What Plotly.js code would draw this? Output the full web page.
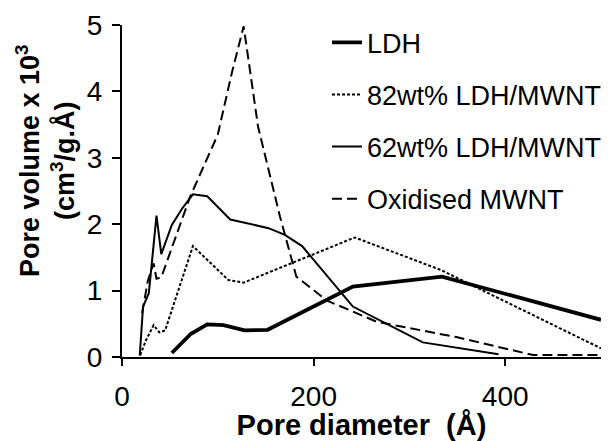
<!DOCTYPE html>
<html>
<head>
<meta charset="utf-8">
<script src="https://cdn.plot.ly/plotly-3.0.1.min.js"></script>
<style>html,body{margin:0;padding:0;background:#fff;}#chart{width:608px;height:441px;}</style>
</head>
<body>
<div id="chart"></div>
<script>
// Series names
const seriesNames = ["LDH", "82wt% LDH/MWNT", "62wt% LDH/MWNT", "Oxidised MWNT"];

// LDH
const ldhX = [52, 72, 89, 106, 128, 152, 241, 334, 500];
const ldhY = [0.06, 0.35, 0.49, 0.48, 0.40, 0.41, 1.06, 1.21, 0.56];

// 82wt% LDH/MWNT
const ldh82X = [19, 25, 33, 39, 45, 74, 111, 127, 243, 333, 500];
const ldh82Y = [0.03, 0.25, 0.48, 0.37, 0.40, 1.67, 1.16, 1.12, 1.80, 1.31, 0.13];

// 62wt% LDH/MWNT
const ldh62X = [18.5, 22, 28, 31, 36, 41, 52, 63, 74, 89, 113, 153, 170, 188, 241, 314, 393];
const ldh62Y = [0.02, 0.76, 0.96, 1.41, 2.13, 1.55, 1.99, 2.24, 2.45, 2.42, 2.07, 1.94, 1.84, 1.67, 0.76, 0.22, 0.04];

// Oxidised MWNT
const oxX = [21, 27, 33, 36, 41, 71, 100, 115, 127, 142, 165, 182, 214, 241, 266, 349, 429, 500];
const oxY = [0.66, 1.15, 1.41, 1.18, 1.20, 2.41, 3.35, 4.30, 4.98, 3.47, 2.11, 1.21, 0.85, 0.68, 0.53, 0.30, 0.03, 0.03];

const xTicks = [0, 200, 400];
const yTicks = [0, 1, 2, 3, 4, 5];

const FONT = '"Liberation Sans", Arial, Helvetica, sans-serif';

const traces = [
  {x: ldhX, y: ldhY, name: seriesNames[0], legendgroup: 'a', mode: 'lines',
   line: {color: '#000', width: 3.8}},
  {x: ldh82X, y: ldh82Y, name: seriesNames[1], legendgroup: 'b', mode: 'lines',
   line: {color: '#000', width: 2, dash: '3px,2px'}},
  {x: ldh62X, y: ldh62Y, name: seriesNames[2], legendgroup: 'c', mode: 'lines',
   line: {color: '#000', width: 2}},
  {x: oxX, y: oxY, name: seriesNames[3], legendgroup: 'd', mode: 'lines',
   line: {color: '#000', width: 2, dash: '10px,5px'}}
];

const axisCommon = {
  showline: true, linecolor: '#000', linewidth: 2,
  ticks: 'outside', tickcolor: '#000', tickwidth: 2,
  showgrid: false, zeroline: false,
  tickfont: {family: FONT, size: 28, color: '#000'}
};

const layout = {
  width: 608, height: 441,
  margin: {l: 122, r: 7, t: 25, b: 84, autoexpand: false},
  paper_bgcolor: '#fff', plot_bgcolor: '#fff',
  font: {family: FONT, color: '#000'},
  showlegend: true,
  legend: {x: 0.428, y: 1.02, xanchor: 'left', yanchor: 'top',
           font: {family: FONT, size: 27, color: '#000'},
           bgcolor: 'rgba(0,0,0,0)', tracegroupgap: 14, traceorder: 'grouped'},
  xaxis: Object.assign({}, axisCommon, {
    range: [0, 500], tickvals: xTicks, ticklen: 7, ticklabelstandoff: 6,
    title: {text: '<b>Pore diameter\u00a0 (Å)</b>', font: {family: FONT, size: 29, color: '#000'}, standoff: 2}
  }),
  yaxis: Object.assign({}, axisCommon, {
    range: [0, 5], tickvals: yTicks, ticklen: 8, ticklabelstandoff: 4
  }),
  annotations: [{
    xref: 'paper', yref: 'paper', x: -0.161, y: 0.593,
    xanchor: 'center', yanchor: 'middle', textangle: -90, showarrow: false,
    text: '<b>Pore volume x 10<sup>3</sup><br>(cm<sup>3</sup>/g.Å)</b>',
    font: {family: FONT, size: 27, color: '#000'}
  }]
};

Plotly.newPlot('chart', traces, layout, {displayModeBar: false, staticPlot: true});
</script>
</body>
</html>
